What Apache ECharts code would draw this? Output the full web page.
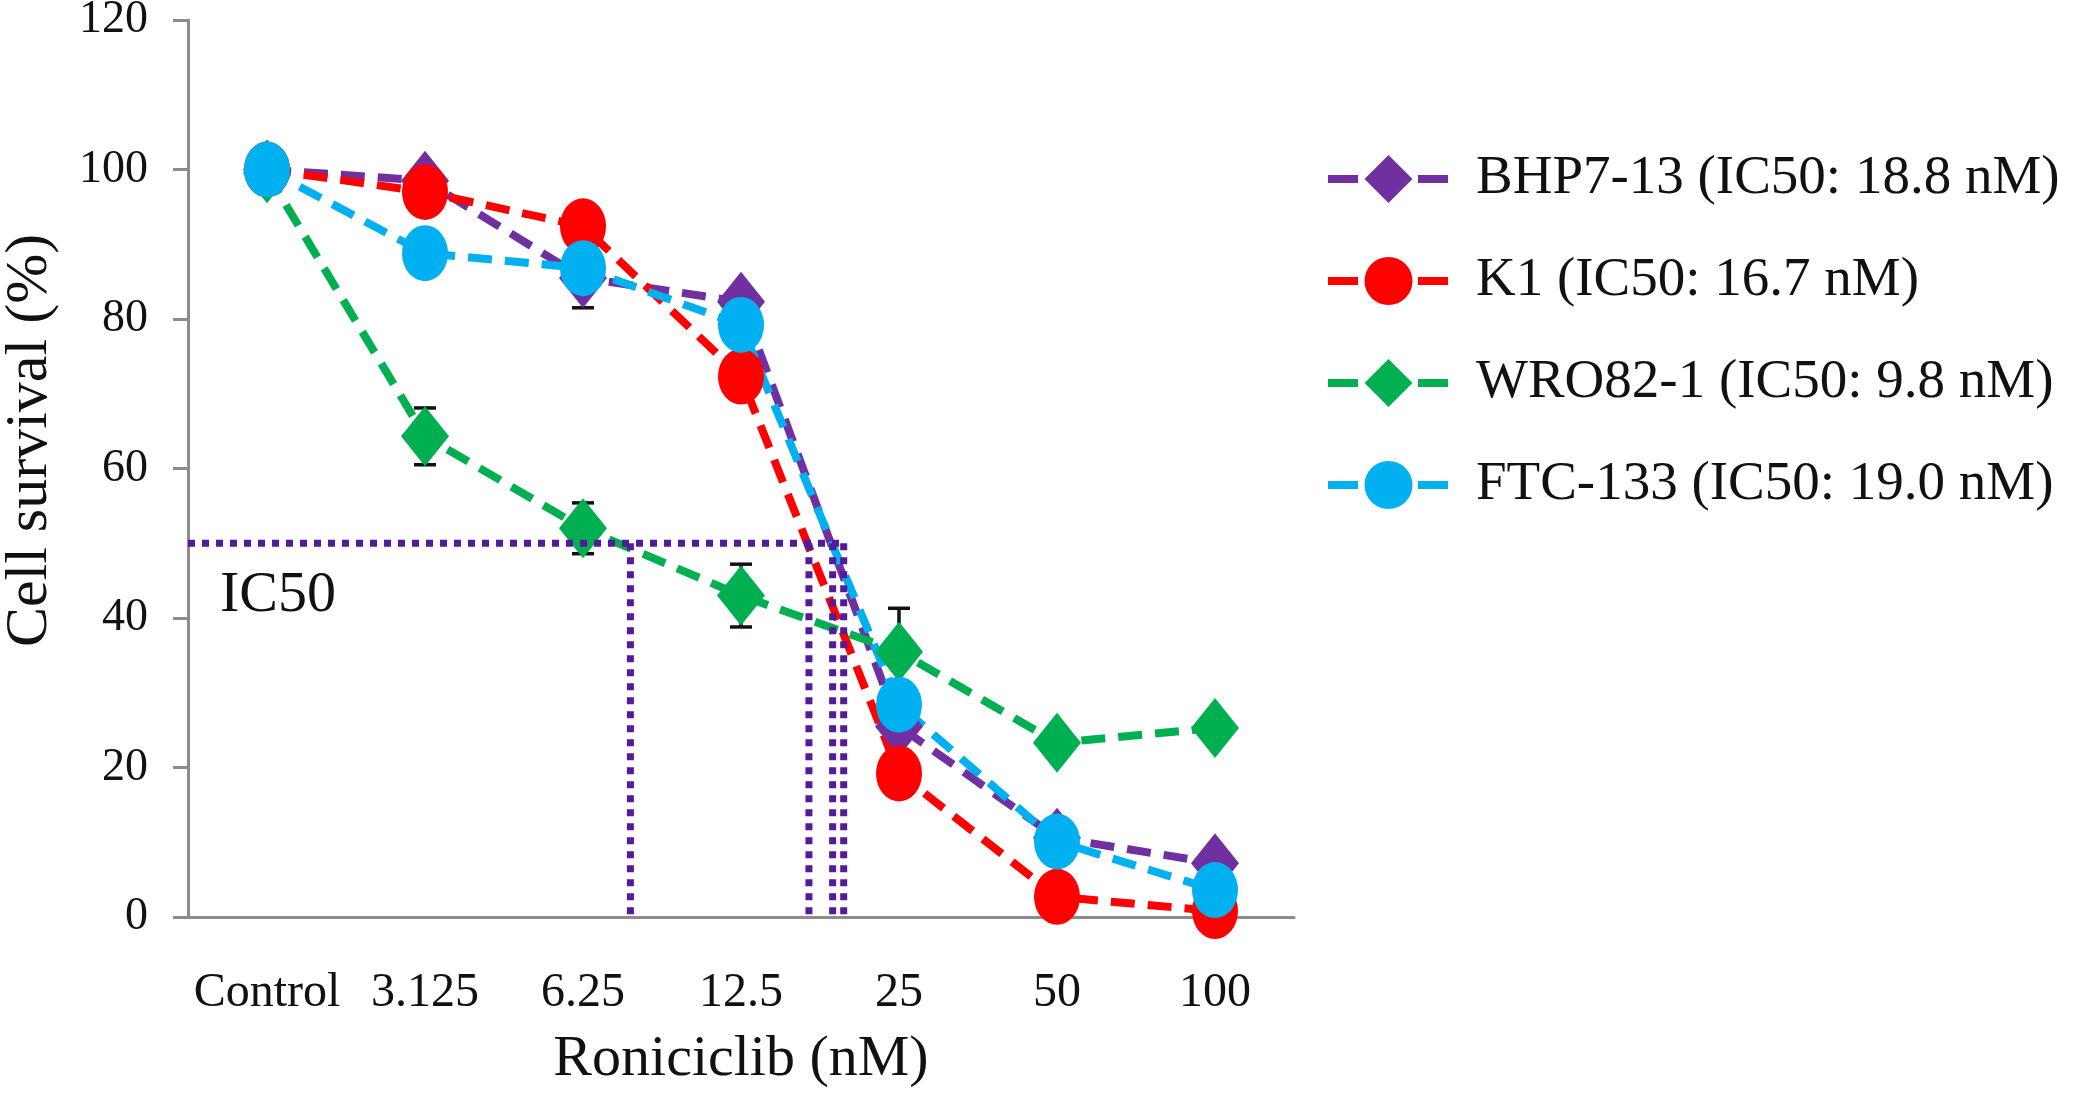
<!DOCTYPE html>
<html>
<head>
<meta charset="utf-8">
<script src="https://cdn.jsdelivr.net/npm/echarts@6/dist/echarts.min.js"></script>
<style>
html, body { margin: 0; padding: 0; background: #fff; }
#chart { width: 2100px; height: 1095px; }
</style>
</head>
<body>
<div id="chart"></div>
<script>
'use strict';
// doses on the x axis
var doses = ['Control', '3.125', '6.25', '12.5', '25', '50', '100'];

// cell survival (%) per line
var bhp7 = [100, 98.5, 85.5, 82.3, 25.5, 10.6, 7.2];
var k1 = [100, 97.0, 92.4, 72.3, 19.2, 2.7, 0.8];
var wro82 = [99.5, 64.3, 52.0, 43.0, 35.5, 23.3, 25.3];
var ftc133 = [100, 88.8, 86.8, 79.2, 28.4, 10.1, 3.6];

// +/- error (only the visible bars)
var bhp7Err = [0, 0, 4.0, 1.8, 0, 0, 0];
var wro82Err = [0, 3.8, 3.4, 4.2, 5.8, 0, 0];

var names = ['BHP7-13 (IC50: 18.8 nM)', 'K1 (IC50: 16.7 nM)', 'WRO82-1 (IC50: 9.8 nM)', 'FTC-133 (IC50: 19.0 nM)'];
var colors = ['#7030A0', '#FF0000', '#00B050', '#00B0F0'];

// IC50 guide: level and where the dotted drops hit the axis (category index units)
var ic50Level = 50;
var ic50Drops = [2.30, 3.43, 3.58, 3.65];
var ic50Label = [0.07, 43];

var FONT = '"Liberation Serif", "Times New Roman", serif';

var chart = echarts.init(document.getElementById('chart'));

function lineSeries(name, data, color, symbol, size) {
    return {
        name: name,
        type: 'line',
        data: data,
        symbol: symbol,
        symbolSize: size,
        z: 3,
        itemStyle: { color: color },
        lineStyle: { color: color, width: 8, type: [24, 13] }
    };
}

function errorBars(values, errs) {
    var rows = [];
    values.forEach(function (v, i) {
        if (errs[i] > 0) rows.push([i, v - errs[i], v + errs[i]]);
    });
    return {
        type: 'custom',
        silent: true,
        z: 1,
        data: rows,
        encode: { x: 0, y: [1, 2] },
        renderItem: function (params, api) {
            var lo = api.coord([api.value(0), api.value(1)]);
            var hi = api.coord([api.value(0), api.value(2)]);
            var w = 11;
            var st = { stroke: '#111', lineWidth: 3.5 };
            return {
                type: 'group',
                children: [
                    { type: 'line', shape: { x1: hi[0], y1: hi[1], x2: lo[0], y2: lo[1] }, style: st },
                    { type: 'line', shape: { x1: hi[0] - w, y1: hi[1], x2: hi[0] + w, y2: hi[1] }, style: st },
                    { type: 'line', shape: { x1: lo[0] - w, y1: lo[1], x2: lo[0] + w, y2: lo[1] }, style: st }
                ]
            };
        }
    };
}

function guide(points) {
    return {
        type: 'line',
        xAxisIndex: 1,
        data: points,
        symbol: 'none',
        silent: true,
        z: 4,
        lineStyle: { color: '#55199B', width: 7, type: [7, 7] }
    };
}

var series = [
    errorBars(bhp7, bhp7Err),
    errorBars(wro82, wro82Err),
    lineSeries(names[0], bhp7, colors[0], 'diamond', [48, 60]),
    lineSeries(names[1], k1, colors[1], 'circle', [46, 56]),
    lineSeries(names[2], wro82, colors[2], 'diamond', [48, 60]),
    lineSeries(names[3], ftc133, colors[3], 'circle', [46, 56]),
    guide([[-0.5, ic50Level], [ic50Drops[ic50Drops.length - 1], ic50Level]])
];
ic50Drops.forEach(function (p) {
    series.push(guide([[p, ic50Level], [p, 0]]));
});
series.push({
    type: 'custom',
    xAxisIndex: 1,
    silent: true,
    z: 5,
    data: [ic50Label],
    renderItem: function (params, api) {
        var p = api.coord([api.value(0), api.value(1)]);
        return {
            type: 'text',
            x: p[0],
            y: p[1],
            style: { text: 'IC50', fill: '#111', font: '58px ' + FONT, align: 'center', verticalAlign: 'middle' }
        };
    }
});

var option = {
    animation: false,
    backgroundColor: '#fff',
    color: colors,
    grid: { left: 188, right: 806, top: 20, bottom: 178, outerBoundsMode: 'none' },
    legend: {
        data: names,
        orient: 'vertical',
        left: 1319,
        top: 144,
        itemWidth: 121,
        itemHeight: 60,
        itemGap: 42,
        lineStyle: { width: 8, type: [30, 15] },
        textStyle: { fontFamily: FONT, fontSize: 55, color: '#111', lineHeight: 60, padding: [0, 0, 0, 22] }
    },
    xAxis: [{
        type: 'category',
        data: doses,
        name: 'Roniciclib (nM)',
        nameLocation: 'middle',
        nameGap: 114,
        nameTextStyle: { fontFamily: FONT, fontSize: 58, color: '#111' },
        axisLine: { lineStyle: { color: '#8c8c8c', width: 3 } },
        axisTick: { length: 13, lineStyle: { color: '#8c8c8c', width: 3 } },
        axisLabel: { interval: 0, fontFamily: FONT, fontSize: 48, color: '#111', margin: 52 }
    }, {
        type: 'value',
        min: -0.5,
        max: 6.5,
        show: false
    }],
    yAxis: {
        type: 'value',
        min: 0,
        max: 120,
        interval: 20,
        name: 'Cell survival (%)',
        nameLocation: 'middle',
        nameGap: 128,
        nameTextStyle: { fontFamily: FONT, fontSize: 60, color: '#111', padding: [0, 0, 0, 56] },
        splitLine: { show: false },
        axisLine: { show: true, onZero: false, lineStyle: { color: '#8c8c8c', width: 3 } },
        axisTick: { show: true, length: 15, lineStyle: { color: '#8c8c8c', width: 3 } },
        axisLabel: { fontFamily: FONT, fontSize: 46, color: '#111', margin: 40 }
    },
    series: series
};

chart.setOption(option);
</script>
</body>
</html>
